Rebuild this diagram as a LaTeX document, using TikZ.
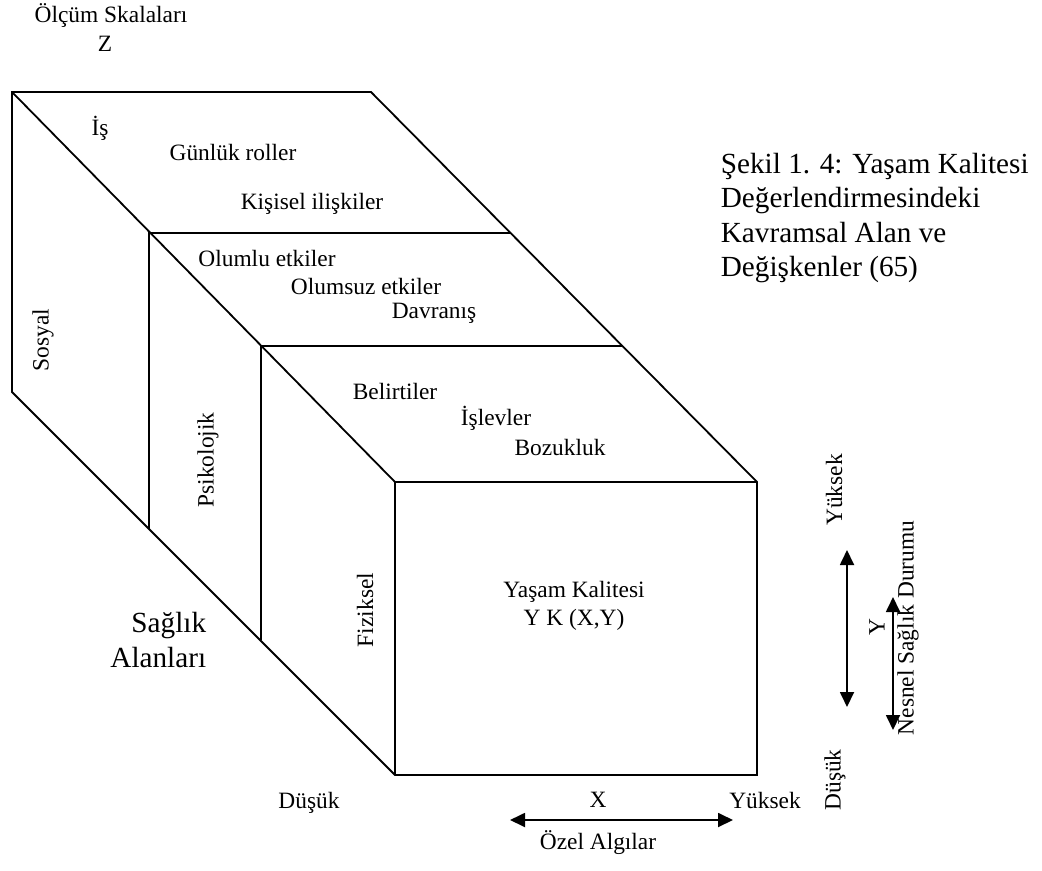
\documentclass[tikz,border=0pt]{standalone}
\usepackage{fontspec}
\setmainfont{Liberation Serif}
\usetikzlibrary{arrows.meta}
\tikzset{
	txt/.style={font=\fontsize{11.7}{14}\selectfont, inner sep=0pt},
	bigtxt/.style={font=\fontsize{14.6}{17.3}\selectfont, inner sep=0pt, align=left},
	scalearrow/.style={{Triangle[width=7pt,length=7.5pt]}-{Triangle[width=7pt,length=7.5pt]}, line width=0.9pt},
}
\begin{document}
\begin{tikzpicture}[x=0.5pt,y=-0.5pt,line width=0.9pt]
	\useasboundingbox (0,0) rectangle (1042,871);
	\coordinate (tl) at (12,92);
	\coordinate (tr) at (371,92);
	\coordinate (bl) at (12,392);
	\coordinate (ftl) at (395,482);
	\coordinate (ftr) at (757,482);
	\coordinate (fbr) at (757,775);
	\coordinate (fbl) at (395,775);
	\coordinate (ptl) at (149,233);
	\coordinate (ptr) at (510,233);
	\coordinate (pbl) at (149,529);
	\coordinate (ftl2) at (261,346);
	\coordinate (ftr2) at (622,346);
	\coordinate (fbl2) at (261,640);
	\draw (bl) -- (tl) -- (tr) -- (ftr) -- (fbr) -- (fbl) -- cycle;
	\draw (tl) -- (ftl) -- (ftr);
	\draw (ftl) -- (fbl);
	\draw (pbl) -- (ptl) -- (ptr);
	\draw (fbl2) -- (ftl2) -- (ftr2);
	\node[txt] (olcum) at (111,16) {Ölçüm Skalaları};
	\node[txt] (z) at (105,44) {Z};
	\node[txt] (is) at (100,128) {İş};
	\node[txt] (gunluk) at (233,152) {Günlük roller};
	\node[txt] (kisisel) at (312,204) {Kişisel ilişkiler};
	\node[txt] (olumlu) at (267,258) {Olumlu etkiler};
	\node[txt] (olumsuz) at (366,286) {Olumsuz etkiler};
	\node[txt] (davranis) at (434,313) {Davranış};
	\node[txt] (belirti) at (395,391) {Belirtiler};
	\node[txt] (islev) at (496,418) {İşlevler};
	\node[txt] (bozuk) at (560,447) {Bozukluk};
	\node[txt, rotate=90] (sosyal) at (43,340) {Sosyal};
	\node[txt, rotate=90] (psiko) at (208,460) {Psikolojik};
	\node[txt, rotate=90] (fizik) at (365,610) {Fiziksel};
	\node[bigtxt, align=right, anchor=east] (saglik) at (207,640) {Sağlık\\Alanları};
	\node[txt, align=center] (yk) at (574,606) {Yaşam Kalitesi\\Y K (X,Y)};
	\node[txt] (dusukx) at (309,803) {Düşük};
	\node[txt] (x) at (598,800) {X};
	\node[txt] (yuksekx) at (765,800) {Yüksek};
	\node[txt] (ozel) at (598,843) {Özel Algılar};
	\coordinate (xl) at (510,820);
	\coordinate (xr) at (733,820);
	\draw[scalearrow] (xl) -- (xr);
	\node[txt, rotate=90] (yuksekz) at (834,490) {Yüksek};
	\node[txt, rotate=90] (dusukz) at (835,780) {Düşük};
	\coordinate (zt) at (847,550);
	\coordinate (zb) at (847,707);
	\draw[scalearrow] (zt) -- (zb);
	\coordinate (yt) at (893,597);
	\coordinate (yb) at (893,730);
	\draw[scalearrow] (yt) -- (yb);
	\node[txt, rotate=90] (y) at (877,627) {Y};
	\node[txt, rotate=90] (nesnel) at (908,628) {Nesnel Sağlık Durumu};
	\node[bigtxt, anchor=north west] (sekil) at (720,152) {Şekil 1. 4: Yaşam Kalitesi\\Değerlendirmesindeki\\Kavramsal Alan ve\\Değişkenler (65)};
\end{tikzpicture}
\end{document}
